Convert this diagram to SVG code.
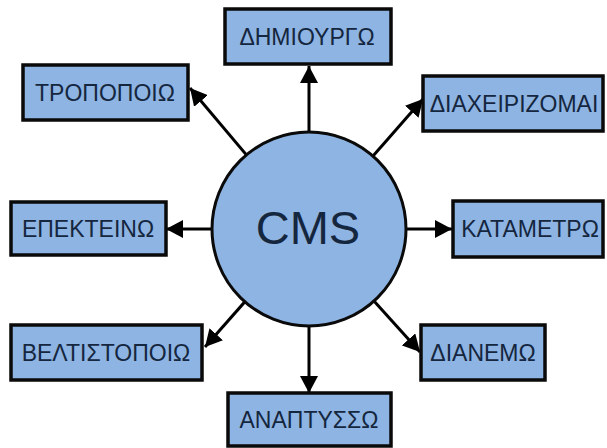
<svg xmlns="http://www.w3.org/2000/svg" width="607" height="448" viewBox="0 0 607 448">
  <defs>
    <marker id="arrow" markerUnits="userSpaceOnUse" markerWidth="19" markerHeight="18" refX="17" refY="9" orient="auto">
      <path d="M0,0 L17,9 L0,18 Z" fill="#000"/>
    </marker>
    <style>
      .box { fill: #8db4e2; stroke: #0a0a0a; stroke-width: 3.5; }
      .hub { fill: #8db4e2; stroke: #0a0a0a; stroke-width: 3; }
      .lbl { font-family: "Liberation Sans", Arial, sans-serif; font-size: 23px; fill: #15263f; text-anchor: middle; }
      .hubl { font-family: "Liberation Sans", Arial, sans-serif; font-size: 47px; fill: #15263f; text-anchor: middle; }
      .edge { stroke: #000; stroke-width: 3; fill: none; marker-end: url(#arrow); }
    </style>
  </defs>
  <rect width="607" height="448" fill="#fff"/>

  <g id="connectors">
    <line class="edge" x1="309" y1="229" x2="309" y2="66"/>
    <line class="edge" x1="309" y1="229" x2="190" y2="88"/>
    <line class="edge" x1="309" y1="229" x2="423" y2="99"/>
    <line class="edge" x1="309" y1="229" x2="166" y2="229"/>
    <line class="edge" x1="309" y1="229" x2="452" y2="229"/>
    <line class="edge" x1="309" y1="229" x2="205" y2="347"/>
    <line class="edge" x1="309" y1="229" x2="420" y2="352"/>
    <line class="edge" x1="309" y1="229" x2="309" y2="393"/>
  </g>

  <g id="cms">
    <circle class="hub" cx="309" cy="229" r="97"/>
    <text class="hubl" x="308" y="244">CMS</text>
  </g>

  <g id="dimiourgo">
    <rect class="box" x="225" y="9" width="166" height="55"/>
    <text class="lbl" x="307" y="45">ΔΗΜΙΟΥΡΓΩ</text>
  </g>
  <g id="tropopoio">
    <rect class="box" x="23" y="65" width="165" height="55"/>
    <text class="lbl" x="105" y="101">ΤΡΟΠΟΠΟΙΩ</text>
  </g>
  <g id="diaxeirizomai">
    <rect class="box" x="423" y="76" width="180" height="55"/>
    <text class="lbl" x="514" y="112">ΔΙΑΧΕΙΡΙΖΟΜΑΙ</text>
  </g>
  <g id="epekteino">
    <rect class="box" x="11" y="202" width="155" height="53"/>
    <text class="lbl" x="88" y="237">ΕΠΕΚΤΕΙΝΩ</text>
  </g>
  <g id="katametro">
    <rect class="box" x="453" y="201" width="150" height="56"/>
    <text class="lbl" x="530" y="237">ΚΑΤΑΜΕΤΡΩ</text>
  </g>
  <g id="veltistopoio">
    <rect class="box" x="11" y="325" width="191" height="55"/>
    <text class="lbl" x="106" y="361">ΒΕΛΤΙΣΤΟΠΟΙΩ</text>
  </g>
  <g id="dianemo">
    <rect class="box" x="421" y="325" width="124" height="55"/>
    <text class="lbl" x="483" y="361">ΔΙΑΝΕΜΩ</text>
  </g>
  <g id="anaptysso">
    <rect class="box" x="228" y="393" width="163" height="53"/>
    <text class="lbl" x="309" y="428">ΑΝΑΠΤΥΣΣΩ</text>
  </g>
</svg>
